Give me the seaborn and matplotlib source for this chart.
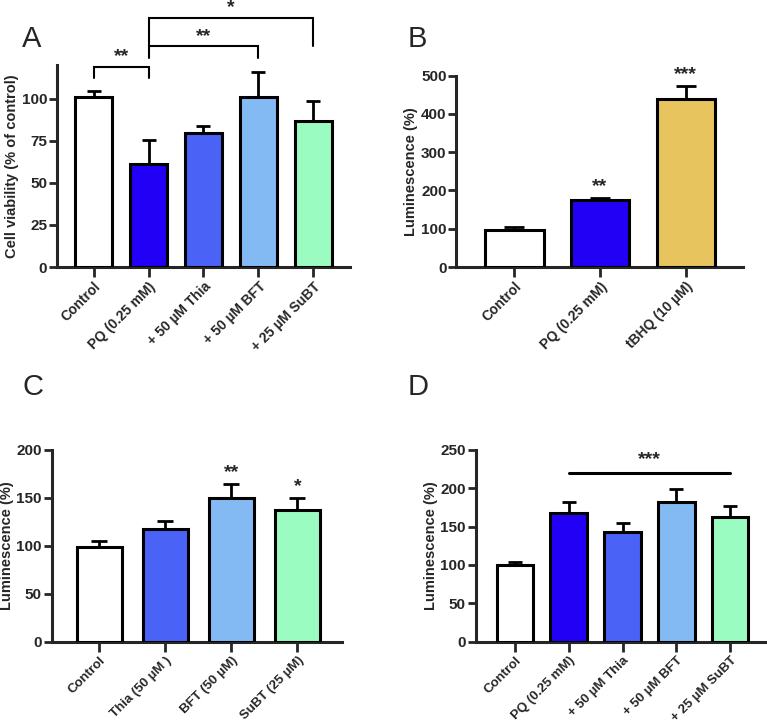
import matplotlib
matplotlib.use("Agg")
import numpy as np
import pandas as pd
import seaborn as sns
import matplotlib.pyplot as plt

sns.set_style("ticks")
plt.rcParams["font.family"] = ["Liberation Sans", "DejaVu Sans"]

# colours
WHITE = "#ffffff"
PQ_BLUE = "#2200f5"
THIA_BLUE = "#4a62f5"
BFT_BLUE = "#83baf4"
SUBT_GREEN = "#9bfcc2"
TBHQ_GOLD = "#e8c45e"

# panel A: cell viability
a_labels = ["Control", "PQ (0.25 mM)", "+ 50 µM Thia", "+ 50 µM BFT", "+ 25 µM SuBT"]
a_means = [101, 61, 79.5, 101, 87]
a_err = [3.5, 14.5, 4, 15, 11.5]
a_colors = [WHITE, PQ_BLUE, THIA_BLUE, BFT_BLUE, SUBT_GREEN]

# panel B: luminescence, tBHQ
b_labels = ["Control", "PQ (0.25 mM)", "tBHQ (10 µM)"]
b_means = [98, 175, 438]
b_err = [6, 6, 34]
b_colors = [WHITE, PQ_BLUE, TBHQ_GOLD]
b_stars = ["", "**", "***"]

# panel C: luminescence, compounds alone
c_labels = ["Control", "Thia (50 µM )", "BFT (50 µM)", "SuBT (25 µM)"]
c_means = [99, 118, 150, 137.5]
c_err = [6, 7.5, 14.5, 12.5]
c_colors = [WHITE, THIA_BLUE, BFT_BLUE, SUBT_GREEN]
c_stars = ["", "", "**", "*"]

# panel D: luminescence, PQ + compounds
d_labels = ["Control", "PQ (0.25 mM)", "+ 50 µM Thia", "+ 50 µM BFT", "+ 25 µM SuBT"]
d_means = [100, 168, 143, 182, 162]
d_err = [3.5, 14.5, 11.5, 17, 15]
d_colors = [WHITE, PQ_BLUE, THIA_BLUE, BFT_BLUE, SUBT_GREEN]

fig = plt.figure(figsize=(7.67, 7.24), dpi=100)


def bar_panel(rect, labels, means, errs, colors, ylim, yticks, ylabel, xlim,
              capsize, xfs=10):
    ax = fig.add_axes(rect)
    df = pd.DataFrame({"group": labels, "value": means})
    sns.barplot(data=df, x="group", y="value", hue="group", palette=colors,
                edgecolor="black", linewidth=2.2, width=0.68, legend=False,
                saturation=1, ax=ax, zorder=3)
    pos = np.arange(len(labels))
    ax.errorbar(pos, means, yerr=[np.zeros(len(errs)), errs], fmt="none",
                ecolor="black", elinewidth=2, capsize=capsize, capthick=2, zorder=2)
    ax.set_ylim(*ylim)
    ax.set_xlim(*xlim)
    ax.set_yticks(yticks)
    ax.set_xlabel("")
    ax.set_ylabel(ylabel, fontsize=10.5, fontweight="bold", labelpad=2)
    ax.set_xticks(pos)
    ax.set_xticklabels(labels, rotation=45, ha="right", rotation_mode="anchor",
                       fontsize=xfs, fontweight="bold")
    for t in ax.get_yticklabels():
        t.set_fontweight("bold")
        t.set_fontsize(11)
    ax.tick_params(axis="both", width=2, length=6, pad=1)
    ax.tick_params(axis="x", length=7, pad=2)
    for side in ("top", "right"):
        ax.spines[side].set_visible(False)
    for side in ("left", "bottom"):
        ax.spines[side].set_linewidth(2.2)
    return ax


def stars_above(ax, means, errs, stars, gap):
    for i, s in enumerate(stars):
        if s:
            ax.text(i, means[i] + errs[i] + gap, s, ha="center", va="bottom",
                    fontsize=14, fontweight="bold")


# A
axA = bar_panel([0.0743, 0.6312, 0.382, 0.279], a_labels, a_means, a_err, a_colors,
                (0, 120), [0, 25, 50, 75, 100], "Cell viability (% of control)",
                (-0.67, 4.67), 5)


def bracket(ax, x1, x2, y, y1_low, y2_low, text):
    ax.plot([x1, x1, x2, x2], [y1_low, y, y, y2_low], color="black", lw=1.5,
            clip_on=False, solid_joinstyle="miter")
    ax.text((x1 + x2) / 2, y + 1, text, ha="center", va="bottom", fontsize=14,
            fontweight="bold", clip_on=False)


bracket(axA, 0, 1, 119, 112, 112, "**")
bracket(axA, 1, 3, 131, 124, 124, "**")
bracket(axA, 1, 4, 148, 131, 131, "*")

# B
axB = bar_panel([0.5949, 0.6312, 0.3738, 0.2642], b_labels, b_means, b_err, b_colors,
                (0, 500), [0, 100, 200, 300, 400, 500], "Luminescence (%)",
                (-0.68, 2.67), 7)
stars_above(axB, b_means, b_err, b_stars, 8)

# C
axC = bar_panel([0.0674, 0.1137, 0.3781, 0.2648], c_labels, c_means, c_err, c_colors,
                (0, 200), [0, 50, 100, 150, 200], "Luminescence (%)",
                (-0.72, 3.67), 6, xfs=9.5)
stars_above(axC, c_means, c_err, c_stars, 3)

# D
axD = bar_panel([0.6202, 0.1137, 0.3794, 0.2648], d_labels, d_means, d_err, d_colors,
                (0, 250), [0, 50, 100, 150, 200, 250], "Luminescence (%)",
                (-0.73, 4.68), 5, xfs=9.5)
axD.plot([1, 4], [220, 220], color="black", lw=2.2, clip_on=False)
axD.text(2.5, 226, "***", ha="center", va="bottom", fontsize=14, fontweight="bold")

# panel letters
for letter, x, y in [("A", 22, 47), ("B", 408, 47), ("C", 22, 395), ("D", 408, 395)]:
    fig.text(x / 767, 1 - y / 724, letter, fontsize=21, ha="left", va="baseline")

fig.savefig("out.png", dpi=100)
